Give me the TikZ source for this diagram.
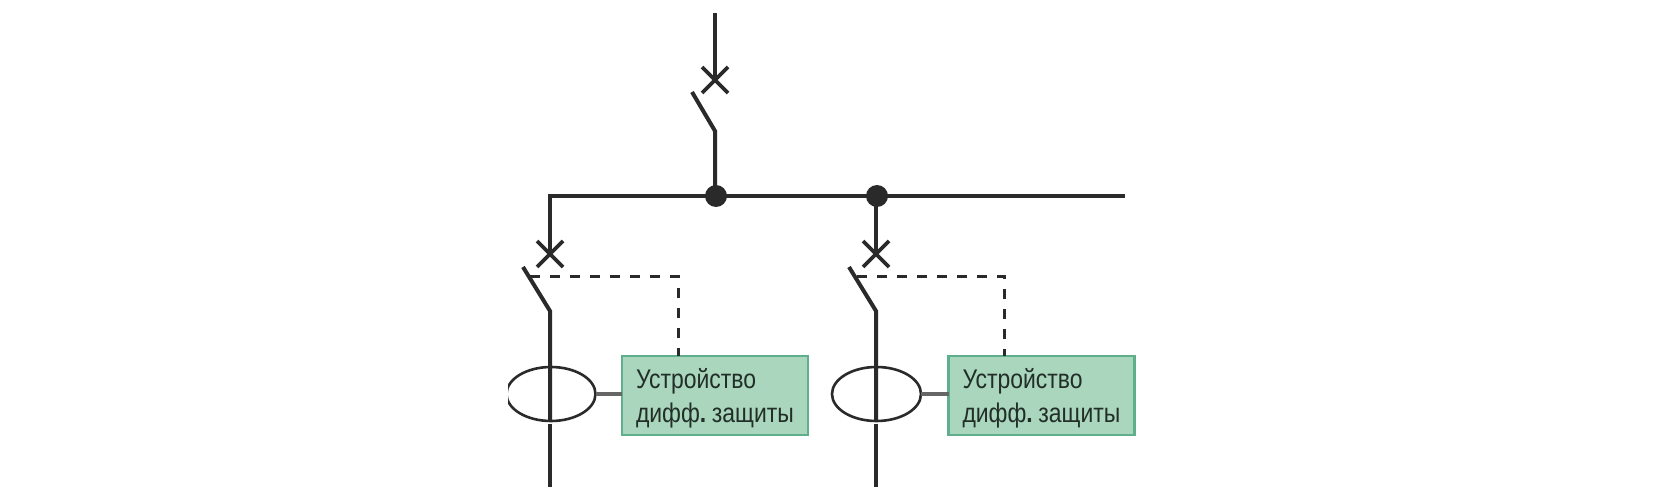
\documentclass[tikz,border=0pt]{standalone}
\usepackage{fontspec}
\setmainfont[FakeStretch=0.85]{Liberation Sans}
\usetikzlibrary{shapes.geometric}
\definecolor{wire}{HTML}{2A2A2A}
\definecolor{boxfill}{HTML}{A9D6BD}
\definecolor{boxedge}{HTML}{5FAF8C}
\definecolor{boxtext}{HTML}{222E28}
\tikzset{
  x=1pt,y=-1pt,
  wireline/.style={draw=wire,line width=4pt},
  thinwire/.style={draw=wire,line width=3.6pt},
  dashwire/.style={draw=wire,line width=3pt,dash pattern=on 10pt off 10pt},
  ct/.style={ellipse,draw=wire,line width=2.6pt,minimum width=89pt,minimum height=54pt,inner sep=0pt,outer sep=0pt},
  stubline/.style={draw=black!60,line width=4pt},
  device/.style={rectangle,draw=boxedge,line width=2.4pt,fill=boxfill,minimum width=186pt,minimum height=79pt,
    inner sep=0pt,outer sep=0pt},
  devicetext/.style={anchor=west,inner sep=0pt,outer sep=0pt,text=boxtext,font=\fontsize{27}{34}\selectfont,align=left},
  junction/.style={circle,fill=wire,minimum size=22pt,inner sep=0pt,outer sep=0pt},
}
\begin{document}
\begin{tikzpicture}
\useasboundingbox (0,0) rectangle (1666,500);
\coordinate (top) at (715,13);
\coordinate (c0) at (715,80);
\coordinate (hinge0) at (715,131);
\coordinate (tip0) at (692,92);
\coordinate (busL) at (550,196);
\coordinate (busR) at (1125,196);
\node[junction] (j0) at (716,196) {};
\node[junction] (j1) at (877,196) {};
\draw[wireline] (c0) -- (top);
\draw[wireline] (tip0) -- (hinge0) -- (hinge0 |- j0.center);
\coordinate (c1) at (550,254);
\coordinate (c2) at (876,254);
\draw[wireline] (busR) -- (busL) -- (c1);
\draw[wireline] (c2 |- j1.center) -- (c2);
\foreach \c in {c0,c1,c2}{
  \draw[thinwire] ([shift={(-13,-13)}]\c) -- ([shift={(13,13)}]\c);
  \draw[thinwire] ([shift={(13,-13)}]\c) -- ([shift={(-13,13)}]\c);
}
\coordinate (tip1) at (523,267);
\coordinate (hinge1) at (550,311);
\coordinate (gapA1) at (550,420);
\coordinate (gapB1) at (550,424);
\coordinate (end1) at (550,487);
\coordinate (dash1) at (530,276);
\coordinate (tip2) at (849,267);
\coordinate (hinge2) at (876,311);
\coordinate (gapA2) at (876,420);
\coordinate (gapB2) at (876,424);
\coordinate (end2) at (876,487);
\coordinate (dash2) at (857,276);
\node[device] (d1) at (715,395.5) {};
\node[device] (d2) at (1041.5,395.5) {};
\node[devicetext] (t1) at (636,398) {Устройство\\дифф\textbf{.}\hspace{-3pt} защиты};
\node[devicetext] (t2) at (962.5,398) {Устройство\\дифф\textbf{.}\hspace{-3pt} защиты};
\begin{scope}
\clip (508,340) rectangle (640,440);
\node[ct] (e1) at (551,394) {};
\end{scope}
\node[ct] (e2) at (876.5,394) {};
\foreach \t/\h/\a/\b/\e in {tip1/hinge1/gapA1/gapB1/end1,tip2/hinge2/gapA2/gapB2/end2}{
  \draw[wireline] (\t) -- (\h) -- (\a);
  \draw[wireline] (\b) -- (\e);
}
\draw[stubline] (e1.east) -- (d1.west |- e1.east);
\draw[stubline] (e2.east) -- (d2.west |- e2.east);
\draw[dashwire] (dash1) -- (678,276) coordinate (k1) -- (k1 |- d1.north);
\draw[dashwire] (dash2) -- (1004,276) coordinate (k2) -- (k2 |- d2.north);
\end{tikzpicture}
\end{document}
